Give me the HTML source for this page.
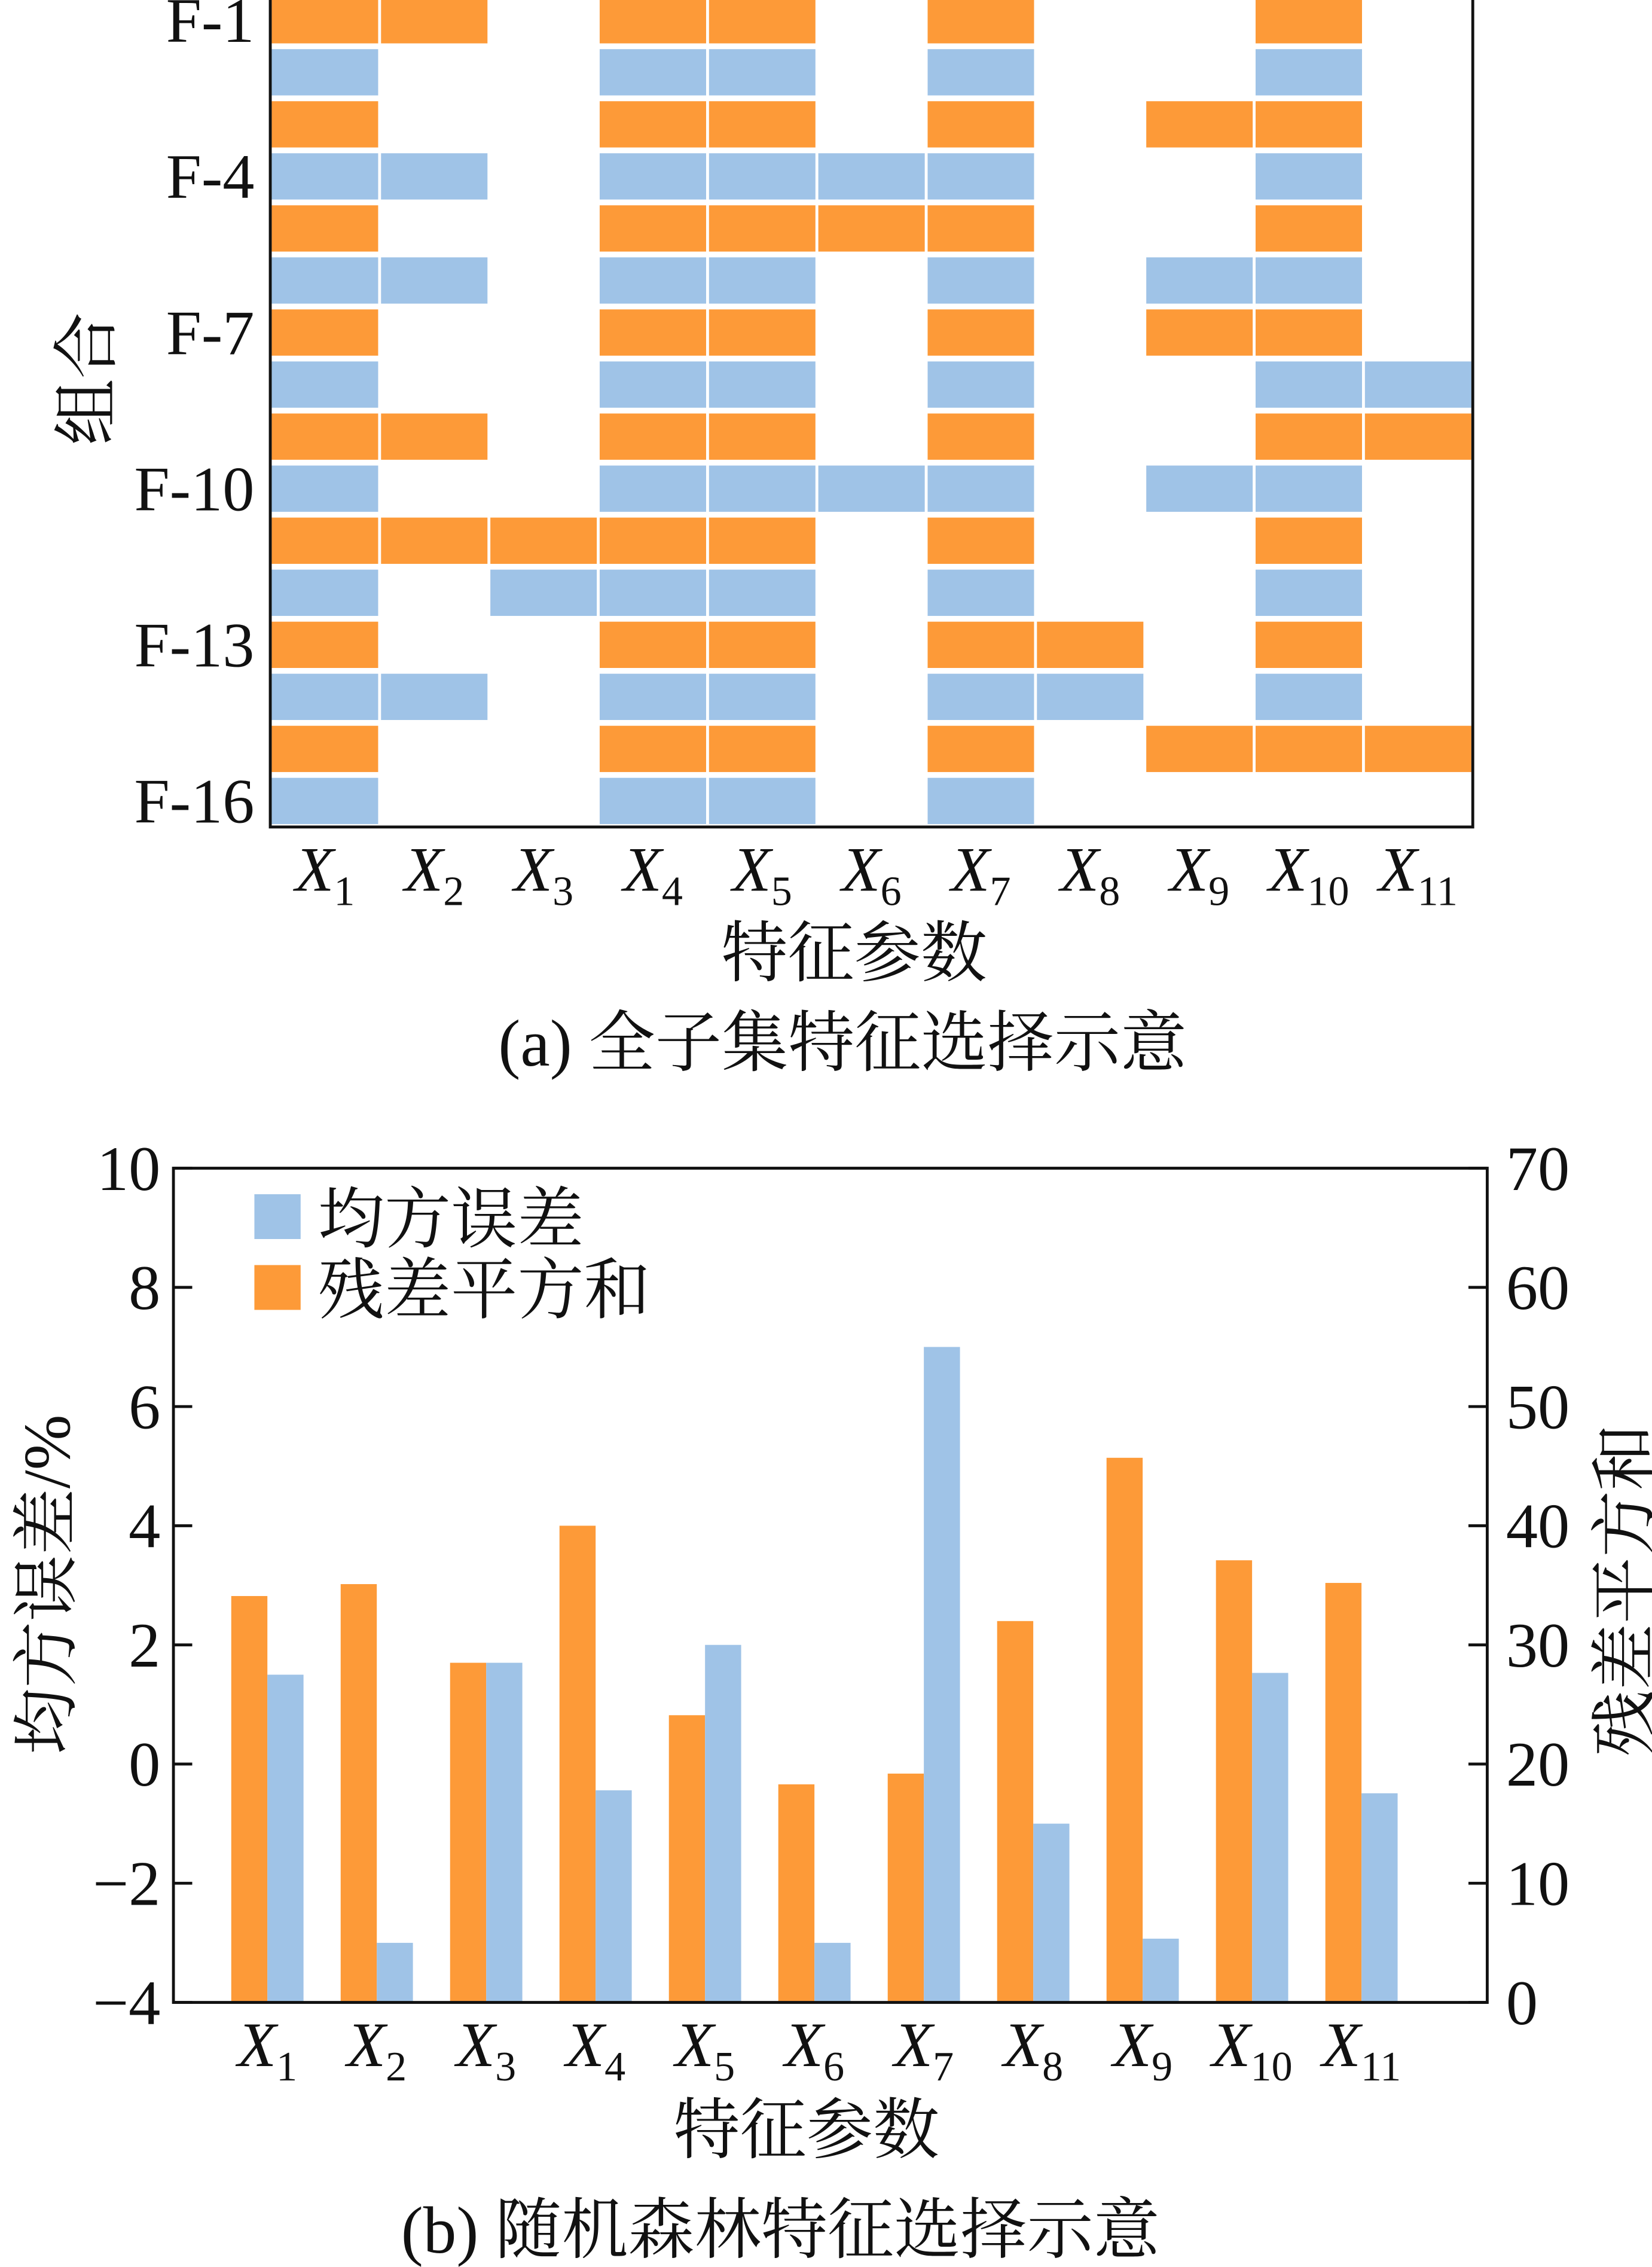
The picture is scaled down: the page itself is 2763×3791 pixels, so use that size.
<!DOCTYPE html>
<html><head><meta charset="utf-8">
<style>
html,body{margin:0;padding:0;background:#fff;}
svg{display:block;}
text{font-family:"Liberation Serif","Noto Serif CJK SC",serif;fill:#111;}
</style></head>
<body>
<svg id="fig" width="2763" height="3791" viewBox="0 0 1143 1568" preserveAspectRatio="none" xmlns="http://www.w3.org/2000/svg">
<rect width="1143" height="1568" fill="#fff"/>
<g id="topChart"></g>
<g id="botChart"></g>
</svg>
<script>
const NS="http://www.w3.org/2000/svg";
const features=["1","2","3","4","5","6","7","8","9","10","11"];
const rowLabels=["F-1","","","F-4","","","F-7","","","F-10","","","F-13","","","F-16"];
const rowSelections=[
[1,2,4,5,7,10],[1,4,5,7,10],[1,4,5,7,9,10],[1,2,4,5,6,7,10],
[1,4,5,6,7,10],[1,2,4,5,7,9,10],[1,4,5,7,9,10],[1,4,5,7,10,11],
[1,2,4,5,7,10,11],[1,4,5,6,7,9,10],[1,2,3,4,5,7,10],[1,3,4,5,7,10],
[1,4,5,7,8,10],[1,2,4,5,7,8,10],[1,4,5,7,9,10,11],[1,4,5,7]];
const mseValues=[1.5,-3.0,1.7,-0.44,2.0,-3.0,7.0,-1.0,-2.93,1.53,-0.49];
const rssValues=[34.1,35.1,28.5,40.0,24.1,18.3,19.2,32.0,45.7,37.1,35.2];
const leftTicks=[-4,-2,0,2,4,6,8,10];
const rightTicks=[0,10,20,30,40,50,60,70];
const ORANGE="#fd9a38", BLUE="#9fc3e7";
const NUM=44, CJK=46;

function el(tag,attrs,parent){const e=document.createElementNS(NS,tag);for(const k in attrs)e.setAttribute(k,attrs[k]);parent.appendChild(e);return e;}
function xLabel(parent,cx,y,sub,name){
  const t=el("text",{x:cx,y:y,"text-anchor":"middle","font-size":NUM},parent);
  
  
  const a=el("tspan",{"font-style":"italic"},t);a.textContent="X";
  const b=el("tspan",{"font-size":29,dy:10},t);b.textContent=sub;
}

// ---- top chart
const topG=document.getElementById("topChart");
const tL=187,tR=1019,tB=572,rowPitch=36,row0=14;
const colW=(tR-tL)/11;
function colX(i){return tL+i*colW;}
function rowY(r){return row0+r*rowPitch;}
rowSelections.forEach((sel,r)=>{
  sel.forEach(c=>{
    const rc=el("rect",{x:colX(c-1)+1,y:rowY(r)-16,width:colW-2,height:32,fill:r%2===0?ORANGE:BLUE},topG);
    
    
  });
  if(rowLabels[r]){
    const t=el("text",{x:176,y:rowY(r)+15,"text-anchor":"end","font-size":NUM},topG);
    t.textContent=rowLabels[r];
    
    
  }
});
const tf=el("path",{d:`M${tL},0 V${tB} H${tR} V0`,fill:"none",stroke:"#111","stroke-width":2},topG);


features.forEach((f,i)=>xLabel(topG,colX(i)+colW/2,616,f,'top-x-tick-'+f));
let t1=el("text",{x:591,y:675,"text-anchor":"middle","font-size":CJK},topG);t1.textContent="特征参数";

let t2=el("text",{x:76,y:262,"text-anchor":"middle","font-size":CJK,transform:"rotate(-90 76 262)"},topG);t2.textContent="组合";

let t3=el("text",{x:583,y:737,"text-anchor":"middle","font-size":CJK},topG);t3.textContent="(a)  全子集特征选择示意";


// ---- bottom chart
const botG=document.getElementById("botChart");
const bL=120,bR=1029,bT=808,bB=1385;
function yL(v){return bB-(v+4)/14*(bB-bT);}
function yR(v){return bB-v/70*(bB-bT);}
const pitch=75.7,c0=185,bw=25;
function cx(i){return c0+i*pitch;}
features.forEach((f,i)=>{
  const o=el("rect",{x:cx(i)-bw,y:yR(rssValues[i]),width:bw,height:bB-yR(rssValues[i]),fill:ORANGE},botG);
  
  
  const b=el("rect",{x:cx(i),y:yL(mseValues[i]),width:bw,height:bB-yL(mseValues[i]),fill:BLUE},botG);
  
  
  xLabel(botG,cx(i),1429,f,'bottom-x-tick-'+f);
});
const bf=el("rect",{x:bL,y:bT,width:bR-bL,height:bB-bT,fill:"none",stroke:"#111","stroke-width":2},botG);


leftTicks.forEach(v=>{
  const y=yL(v);
  const tk=el("line",{x1:bL,x2:bL+13,y1:y,y2:y,stroke:"#111","stroke-width":2},botG);
  
  const t=el("text",{x:111,y:y+15,"text-anchor":"end","font-size":NUM},botG);
  t.textContent=v<0?"\u2212"+(-v):String(v);
  
});
rightTicks.forEach(v=>{
  const y=yR(v);
  const tk=el("line",{x1:bR-13,x2:bR,y1:y,y2:y,stroke:"#111","stroke-width":2},botG);
  
  const t=el("text",{x:1042,y:y+15,"font-size":NUM},botG);
  t.textContent=String(v);
  
});
// legend
const l1=el("rect",{x:176,y:826,width:32,height:31,fill:BLUE},botG);

let lt1=el("text",{x:220,y:859,"font-size":CJK},botG);lt1.textContent="均方误差";

const l2=el("rect",{x:176,y:875,width:32,height:31,fill:ORANGE},botG);

let lt2=el("text",{x:220,y:908,"font-size":CJK},botG);lt2.textContent="残差平方和";

let ya=el("text",{x:48,y:1096,"text-anchor":"middle","font-size":CJK,transform:"rotate(-90 48 1096)"},botG);ya.textContent="均方误差/%";

let yb=el("text",{x:1140,y:1100,"text-anchor":"middle","font-size":CJK,transform:"rotate(-90 1140 1100)"},botG);yb.textContent="残差平方和";

let xb=el("text",{x:558,y:1489,"text-anchor":"middle","font-size":CJK},botG);xb.textContent="特征参数";

let cb=el("text",{x:540,y:1558,"text-anchor":"middle","font-size":CJK},botG);cb.textContent="(b)  随机森林特征选择示意";

</script>
</body></html>
